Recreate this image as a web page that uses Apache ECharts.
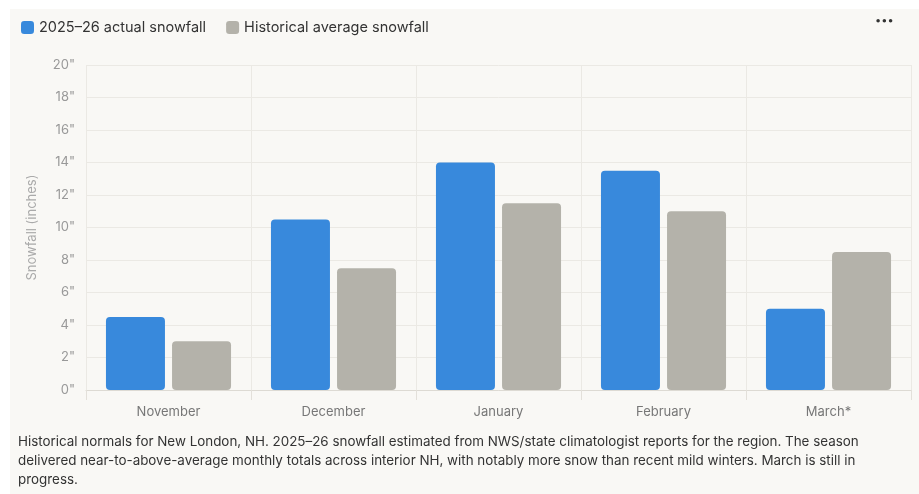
<!DOCTYPE html>
<html>
<head>
<meta charset="utf-8">
<script src="https://cdn.jsdelivr.net/npm/echarts@6/dist/echarts.min.js"></script>
<style>
  html, body { margin: 0; padding: 0; background: #ffffff; }
  #chart { width: 919px; height: 494px; }
</style>
</head>
<body>
<div id="chart"></div>
<script>
  const months = ['November', 'December', 'January', 'February', 'March*'];
  const actualSnow = [4.5, 10.5, 14, 13.5, 5];
  const averageSnow = [3, 7.5, 11.5, 11, 8.5];
  const seriesNames = ['2025–26 actual snowfall', 'Historical average snowfall'];
  const captionLines = [
    'Historical normals for New London, NH. 2025–26 snowfall estimated from NWS/state climatologist reports for the region. The season',
    'delivered near-to-above-average monthly totals across interior NH, with notably more snow than recent mild winters. March is still in',
    'progress.'
  ];

  const fontFamily = 'Inter, "Open Sans", sans-serif';
  const myChart = echarts.init(document.getElementById('chart'));

  const options = {
    backgroundColor: '#ffffff',
    textStyle: { fontFamily: fontFamily },
    animation: false,
    legend: {
      left: 16,
      top: 15,
      itemWidth: 13,
      itemHeight: 13,
      itemGap: 20,
      icon: 'roundRect',
      textStyle: { color: '#333', fontSize: 14.5, fontFamily: fontFamily },
      data: seriesNames
    },
    grid: {
      left: 86,
      right: 8,
      top: 65,
      bottom: 104,
      containLabel: false
    },
    xAxis: {
      type: 'category',
      data: months,
      axisLine: { lineStyle: { color: '#dddad3' } },
      axisTick: { show: true, length: 10, lineStyle: { color: '#e3e0da' } },
      splitLine: { show: true, lineStyle: { color: '#ebe9e4' } },
      axisLabel: { color: '#777', fontSize: 13, margin: 16 }
    },
    yAxis: {
      type: 'value',
      min: 0,
      max: 20,
      interval: 2,
      name: 'Snowfall (inches)',
      nameLocation: 'middle',
      nameGap: 47,
      nameTextStyle: { color: '#aaa', fontSize: 13 },
      axisLine: { show: false },
      axisTick: { show: false },
      splitLine: { lineStyle: { color: '#ebe9e4' } },
      axisLabel: {
        color: '#999',
        fontSize: 13,
        margin: 11,
        formatter: v => v + '"'
      }
    },
    series: [
      {
        name: seriesNames[0],
        type: 'bar',
        data: actualSnow,
        barWidth: 59,
        barGap: '12%',
        itemStyle: { color: '#3889dc', borderRadius: 4 }
      },
      {
        name: seriesNames[1],
        type: 'bar',
        data: averageSnow,
        barWidth: 59,
        itemStyle: { color: '#b4b2aa', borderRadius: 4 }
      }
    ],
    graphic: [
      {
        type: 'rect',
        z: -10,
        silent: true,
        shape: { x: 10, y: 9, width: 909, height: 485 },
        style: { fill: '#f9f8f5' }
      },
      {
        type: 'text',
        left: 875,
        top: 15,
        style: { text: '•••', fill: '#333', font: '11px ' + fontFamily }
      },
      {
        type: 'text',
        left: 18,
        top: 432,
        style: {
          text: captionLines.join('\n'),
          fill: '#333',
          font: '13.4px ' + fontFamily,
          lineHeight: 19
        }
      }
    ]
  };

  myChart.setOption(options);
  window.addEventListener('resize', () => {
    myChart && myChart.resize();
  });
</script>
</body>
</html>
